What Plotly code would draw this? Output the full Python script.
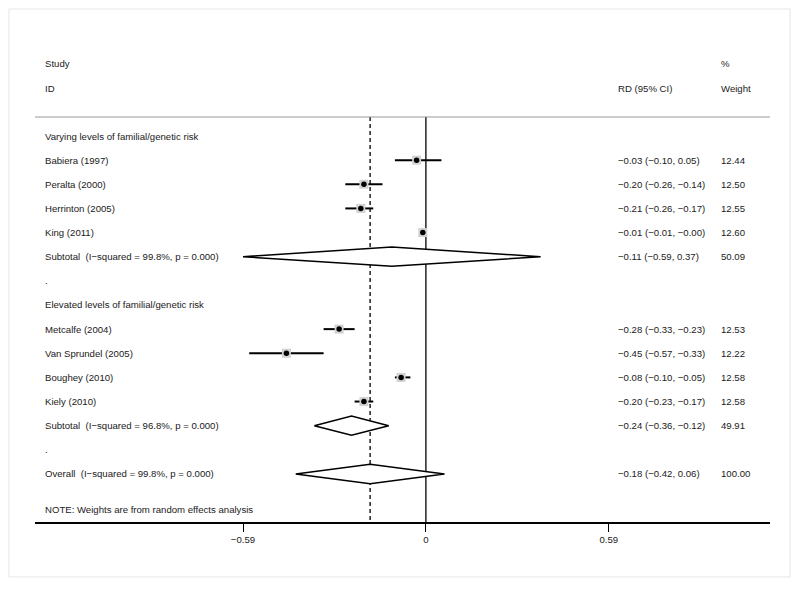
import plotly.graph_objects as go

# ---------------- data ----------------
row_labels = [
    "Varying levels of familial/genetic risk",
    "Babiera (1997)",
    "Peralta (2000)",
    "Herrinton (2005)",
    "King (2011)",
    "Subtotal  (I\u2212squared = 99.8%, p = 0.000)",
    ".",
    "Elevated levels of familial/genetic risk",
    "Metcalfe (2004)",
    "Van Sprundel (2005)",
    "Boughey (2010)",
    "Kiely (2010)",
    "Subtotal  (I\u2212squared = 96.8%, p = 0.000)",
    ".",
    "Overall  (I\u2212squared = 99.8%, p = 0.000)",
]
# row kind: h = heading, s = study, p = pooled diamond, b = blank
row_kind = ["h", "s", "s", "s", "s", "p", "b", "h", "s", "s", "s", "s", "p", "b", "p"]
row_est = [None, -0.03, -0.20, -0.21, -0.01, -0.11, None, None, -0.28, -0.45, -0.08, -0.20, -0.24, None, -0.18]
row_lo = [None, -0.10, -0.26, -0.26, -0.01, -0.59, None, None, -0.33, -0.57, -0.10, -0.23, -0.36, None, -0.42]
row_hi = [None, 0.05, -0.14, -0.17, -0.00, 0.37, None, None, -0.23, -0.33, -0.05, -0.17, -0.12, None, 0.06]
row_weight = [None, 12.44, 12.50, 12.55, 12.60, 50.09, None, None, 12.53, 12.22, 12.58, 12.58, 49.91, None, 100.00]

overall_est = -0.18
tick_vals = [-0.59, 0, 0.59]
tick_text = ["\u22120.59", "0", "0.59"]
note_text = "NOTE: Weights are from random effects analysis"

# ---------------- layout constants ----------------
X_MIN, X_MAX = -1.261, 1.110
Y_TOP, Y_BOT = -2.977, 16.99
X_LABEL = -1.235
X_RD = 0.613
X_W = 0.945
Y_HEADER_LINE = 0.213
FONT = dict(family="Liberation Sans, Arial, sans-serif", size=9.6, color="#1a1a1a")


def fmt(v):
    return f"{v:.2f}".replace("-", "\u2212")


fig = go.Figure()
annotations = []
shapes = []

rows = list(range(1, len(row_labels) + 1))

for r, lab, kind, est, lo, hi, w in zip(rows, row_labels, row_kind, row_est, row_lo, row_hi, row_weight):
    annotations.append(dict(x=X_LABEL, y=r, text=lab, xref="x", yref="y", showarrow=False,
                            xanchor="left", yanchor="middle", font=FONT))
    if est is not None:
        annotations.append(dict(x=X_RD, y=r, text=f"{fmt(est)} ({fmt(lo)}, {fmt(hi)})", xref="x", yref="y",
                                showarrow=False, xanchor="left", yanchor="middle", font=FONT))
        annotations.append(dict(x=X_W, y=r, text=f"{w:.2f}", xref="x", yref="y",
                                showarrow=False, xanchor="left", yanchor="middle", font=FONT))
    if kind == "s":
        fig.add_trace(go.Scatter(x=[lo, hi], y=[r, r], mode="lines",
                                 line=dict(color="black", width=2), hoverinfo="skip", showlegend=False))
        fig.add_trace(go.Scatter(x=[est], y=[r], mode="markers",
                                 marker=dict(symbol="square", size=9, color="#d2d2d2"),
                                 hoverinfo="skip", showlegend=False))
        fig.add_trace(go.Scatter(x=[est], y=[r], mode="markers",
                                 marker=dict(symbol="circle", size=5.5, color="black"),
                                 hoverinfo="skip", showlegend=False))
    elif kind == "p":
        h = 0.4
        fig.add_trace(go.Scatter(x=[lo, est, hi, est, lo], y=[r, r - h, r, r + h, r], mode="lines",
                                 fill="toself", fillcolor="white",
                                 line=dict(color="black", width=1.5), hoverinfo="skip", showlegend=False))

# headers
for txt, x, y in [("Study", X_LABEL, -2.024), ("ID", X_LABEL, -0.988), ("RD (95% CI)", X_RD, -0.988),
                  ("%", X_W, -2.024), ("Weight", X_W, -0.988)]:
    annotations.append(dict(x=x, y=y, text=txt, xref="x", yref="y", showarrow=False,
                            xanchor="left", yanchor="middle", font=FONT))
annotations.append(dict(x=X_LABEL, y=16.49, text=note_text, xref="x", yref="y", showarrow=False,
                        xanchor="left", yanchor="middle", font=FONT))

# header rule
shapes.append(dict(type="line", xref="paper", yref="y", x0=0, x1=1, y0=Y_HEADER_LINE, y1=Y_HEADER_LINE,
                   line=dict(color="#999999", width=1)))
# zero line
shapes.append(dict(type="line", xref="x", yref="y", x0=0, x1=0, y0=Y_HEADER_LINE, y1=Y_BOT,
                   line=dict(color="black", width=1.3), layer="below"))
# overall dashed line
shapes.append(dict(type="line", xref="x", yref="y", x0=overall_est, x1=overall_est, y0=Y_HEADER_LINE, y1=Y_BOT,
                   line=dict(color="black", width=1.3, dash="4px,3px"), layer="below"))
# outer faint frame
shapes.append(dict(type="rect", xref="paper", yref="paper", x0=-0.0354, x1=1.0272, y0=-0.114, y1=1.0643,
                   line=dict(color="#e6e6e6", width=1)))

# page body adds an 8px offset, so the figure is 8px smaller on each side
fig.update_layout(
    width=792, height=581,
    margin=dict(l=27, r=30, t=32, b=67),
    paper_bgcolor="white", plot_bgcolor="white",
    annotations=annotations, shapes=shapes,
    font=FONT,
    xaxis=dict(range=[X_MIN, X_MAX], showgrid=False, zeroline=False,
               showline=True, linecolor="black", linewidth=1.5,
               ticks="outside", ticklen=8, tickwidth=1, tickcolor="black",
               tickvals=tick_vals, ticktext=tick_text, tickfont=FONT),
    yaxis=dict(range=[Y_BOT, Y_TOP], showgrid=False, zeroline=False, showline=False,
               showticklabels=False, ticks=""),
)

fig.write_html("out.html")
